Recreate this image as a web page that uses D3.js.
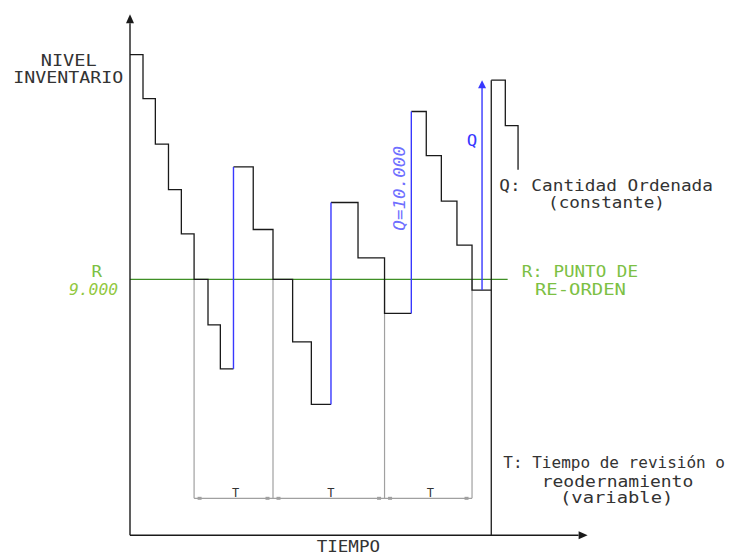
<!DOCTYPE html>
<html><head><meta charset="utf-8">
<script src="https://cdn.jsdelivr.net/npm/d3@7"></script>
<style>
html,body{margin:0;padding:0;background:#fff;}
svg{display:block;}
text{font-family:"DejaVu Sans Mono",monospace;}
</style></head>
<body>
<script>
// ---- data ----
const timeDomain = [0, 35.2];
const levelDomain = [0, 18000];
const reorderLevel = 9000;
const reorderLineEnd = 29.05;

const cycleTimes = [
  [0, 1, 1.95, 2.96, 3.95, 4.93, 6.0, 6.95, 7.96],
  [7.96, 9.48, 11.0, 12.51, 13.95, 15.46],
  [15.46, 17.54, 19.58, 21.64],
  [21.64, 22.79, 23.95, 25.15, 26.31, 27.79],
  [27.79, 28.87, 29.85]
];
const cycleLevels = [
  [16900, 15350, 13750, 12150, 10600, 9000, 7400, 5850, 5850],
  [12950, 10750, 9000, 6800, 4600, 4600],
  [11700, 9750, 7800, 7800],
  [14900, 13350, 11750, 10200, 8620, 8620],
  [16000, 14400, 12850]
];
const orderTimes = [7.96, 15.46, 21.64];
const orderFrom = [5850, 4600, 7800];
const orderTo = [12950, 11700, 14900];
const arrowTime = 27.08, arrowFrom = 8620, arrowTo = 16000;
const cutTime = 27.79, cutTop = 16000;
const reviewTimes = [4.93, 11.0, 19.58, 26.31];
const dimLevel = 1300;
const periodLabels = ["T", "T", "T"];

// ---- chart ----
const W = 738, H = 555;
const svg = d3.select("body").append("svg").attr("width", W).attr("height", H);
const x = d3.scaleLinear().domain(timeDomain).range([130, 587.6]);
const y = d3.scaleLinear().domain(levelDomain).range([535.3, 23.3]);

const BLACK = "#1a1a1a", TXT = "#333", BLUE = "#3838ff", GRAY = "#a0a0a0", GREEN = "#3f8f25", LGREEN = "#7cc043";

// review verticals (gray)
svg.selectAll(".rev").data(reviewTimes).join("line")
  .attr("x1", d => x(d)).attr("x2", d => x(d))
  .attr("y1", y(reorderLevel)).attr("y2", y(dimLevel))
  .attr("stroke", GRAY).attr("stroke-width", 1.2);

// dimension line
const segs = d3.pairs(reviewTimes);
svg.append("line").attr("x1", x(reviewTimes[0])).attr("x2", x(reviewTimes[reviewTimes.length - 1]))
  .attr("y1", y(dimLevel)).attr("y2", y(dimLevel)).attr("stroke", GRAY).attr("stroke-width", 1.2);
segs.forEach(([a, b], i) => {
  [x(a) + 5.5, x(b) - 5.5].forEach(px => {
    svg.append("rect").attr("x", px - 2).attr("y", y(dimLevel) - 1.5).attr("width", 4).attr("height", 3).attr("fill", GRAY);
  });
  svg.append("text").attr("x", (x(a) + x(b)) / 2 + 2).attr("y", y(dimLevel) - 1)
    .attr("text-anchor", "middle").attr("font-size", 12).attr("fill", TXT).text(periodLabels[i]);
});

// reorder line (green)
svg.append("line").attr("x1", x(0)).attr("x2", x(reorderLineEnd))
  .attr("y1", y(reorderLevel)).attr("y2", y(reorderLevel)).attr("stroke", GREEN).attr("stroke-width", 1.2);

// inventory steps
const line = d3.line().x(d => x(d[0])).y(d => y(d[1])).curve(d3.curveStepAfter);
cycleTimes.forEach((ts, i) => {
  svg.append("path").attr("d", line(ts.map((t, j) => [t, cycleLevels[i][j]])))
    .attr("fill", "none").attr("stroke", BLACK).attr("stroke-width", 1.3);
});
// cut vertical
svg.append("line").attr("x1", x(cutTime)).attr("x2", x(cutTime)).attr("y1", y(0)).attr("y2", y(cutTop))
  .attr("stroke", BLACK).attr("stroke-width", 1.3);

// orders (blue)
svg.selectAll(".ord").data(orderTimes).join("line")
  .attr("x1", d => x(d)).attr("x2", d => x(d))
  .attr("y1", (d, i) => y(orderFrom[i])).attr("y2", (d, i) => y(orderTo[i]))
  .attr("stroke", BLUE).attr("stroke-width", 1.4);

// Q arrow
svg.append("line").attr("x1", x(arrowTime)).attr("x2", x(arrowTime))
  .attr("y1", y(arrowFrom)).attr("y2", y(arrowTo) + 7).attr("stroke", BLUE).attr("stroke-width", 1.4);
svg.append("path").attr("d", `M${x(arrowTime)},${y(arrowTo)} l-4,8 l8,0 z`).attr("fill", BLUE);

// axes
svg.append("line").attr("x1", x(0)).attr("x2", x(0)).attr("y1", y(0)).attr("y2", y(levelDomain[1])).attr("stroke", BLACK).attr("stroke-width", 1.4);
svg.append("path").attr("d", `M${x(0)},${y(levelDomain[1]) - 9} l-4,9 l8,0 z`).attr("fill", BLACK);
svg.append("line").attr("x1", x(0)).attr("x2", x(timeDomain[1]) - 9).attr("y1", y(0)).attr("y2", y(0)).attr("stroke", BLACK).attr("stroke-width", 1.4);
svg.append("path").attr("d", `M${x(timeDomain[1])},${y(0)} l-9,-4 l0,8 z`).attr("fill", BLACK);

// labels
function label(t, px, py, len, opts = {}) {
  const el = svg.append("text").attr("x", px).attr("y", py)
    .attr("font-size", opts.size || 15).attr("fill", opts.color || TXT)
    .attr("textLength", len).attr("lengthAdjust", "spacingAndGlyphs").text(t);
  if (opts.italic) el.attr("font-style", "italic");
  return el;
}
label("NIVEL", 40.7, 65.5, 56);
label("INVENTARIO", 13.3, 83, 110);
label("R", 91.5, 277, 10.5, {color: LGREEN});
label("9.000", 69, 295, 49, {color: "#92c83e", italic: true});
label("Q: Cantidad Ordenada", 499.3, 190.7, 213.7);
label("(constante)", 548, 208.3, 117);
label("R: PUNTO DE", 521.7, 276.7, 116.3, {color: LGREEN});
label("RE-ORDEN", 535, 295, 91, {color: LGREEN});
label("T: Tiempo de revisión o", 503.3, 468.3, 221.7);
label("reodernamiento", 541.7, 486.7, 151.6);
label("(variable)", 560, 503.3, 113.3);
label("TIEMPO", 316.7, 552, 63.3);
label("Q", 466.8, 146, 10.5, {color: BLUE});
svg.append("text").attr("transform", "translate(405,230.7) rotate(-90)")
  .attr("font-size", 15).attr("fill", "#6f6fff").attr("font-style", "italic")
  .attr("textLength", 84.7).attr("lengthAdjust", "spacingAndGlyphs").text("Q=10.000");
</script>
</body></html>
